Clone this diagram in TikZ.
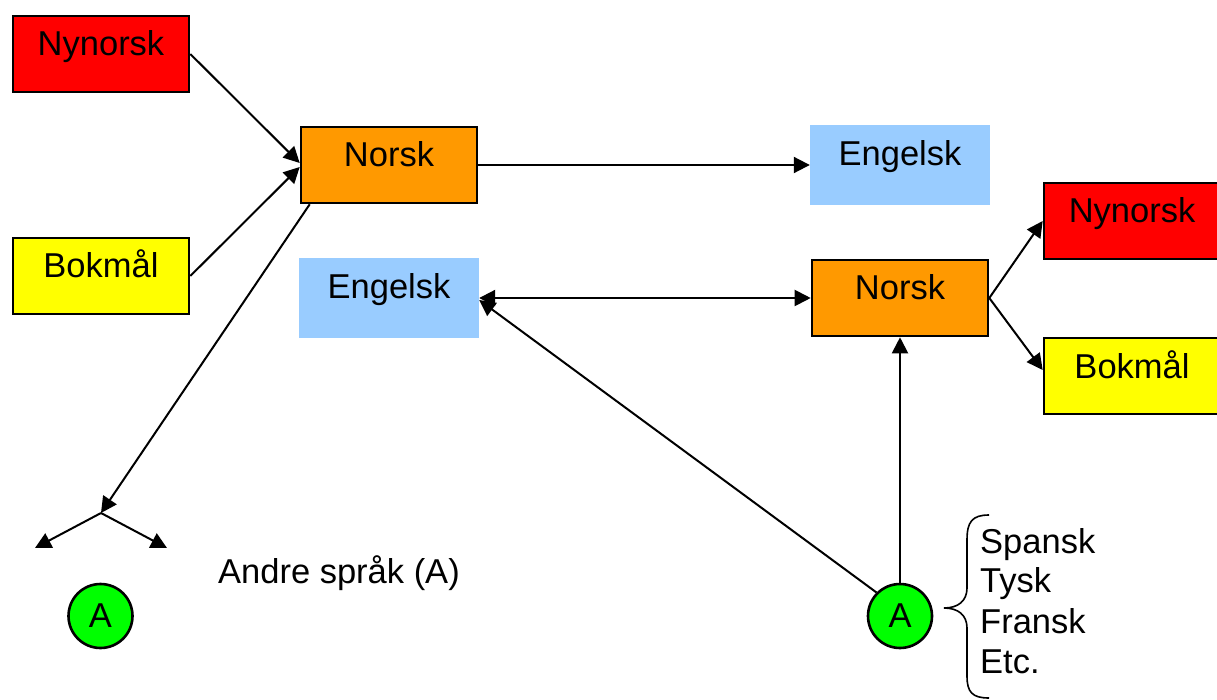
\documentclass[tikz,border=0pt]{standalone}
\usepackage{fontspec}
\setmainfont{Liberation Sans}
\usetikzlibrary{arrows.meta,calc}
\definecolor{nyred}{HTML}{FF0000}
\definecolor{norange}{HTML}{FF9900}
\definecolor{bokyellow}{HTML}{FFFF00}
\definecolor{engblue}{HTML}{99CCFF}
\definecolor{othergreen}{HTML}{00FF00}
\begin{document}
\begin{tikzpicture}[x=1pt,y=-1pt,
  lbl/.style={font=\fontsize{34.5}{40}\selectfont},
  langbox/.style={lbl, rectangle, draw=black, line width=2.6pt, inner sep=0pt,
    minimum width=176pt, text height=40pt, text depth=36pt},
  plainbox/.style={lbl, rectangle, draw=none, fill=engblue, inner sep=0pt,
    minimum width=180pt, text height=41pt, text depth=39pt},
  badge/.style={lbl, circle, draw=black, line width=2.6pt, fill=othergreen,
    minimum size=64pt, inner sep=0pt},
  link/.style={line width=2pt, -{Triangle[length=16pt,width=16pt]}},
  twoway/.style={line width=2pt, {Triangle[length=16pt,width=16pt]}-{Triangle[length=16pt,width=16pt]}},
  brace/.style={line width=1.6pt},
  listtext/.style={lbl, inner sep=0pt, anchor=base west}
  ]
\useasboundingbox (0,0) rectangle (1217,700);

% left group: two written standards feeding Norwegian
\node[langbox, fill=nyred]     (nynL)   at (101,54)  {Nynorsk};
\node[langbox, fill=bokyellow] (bokL)   at (101,276) {Bokmål};
\node[langbox, fill=norange]   (norskL) at (389,165) {Norsk};
\node[plainbox]                (engT)   at (900,165) {Engelsk};
\node[plainbox]                (engL)   at (389,298) {Engelsk};

% right group
\node[langbox, fill=norange]   (norskR) at (900,298) {Norsk};
\node[langbox, fill=nyred]     (nynR)   at (1132,221) {Nynorsk};
\node[langbox, fill=bokyellow] (bokR)   at (1132,376) {Bokmål};

% other languages
\node[badge] (aL) at (100.5,616) {A};
\node[badge] (aR) at (900,616) {A};
\node[lbl, inner sep=0pt, anchor=base west] (andre) at (218,583) {Andre språk (A)};

% fork below the left Norwegian box
\coordinate (fork)  at (101,513);
\coordinate (forkL) at (35,548);
\coordinate (forkR) at (167,548);

% connectors
\draw[link] (nynL.east) -- ($(norskL.west)+(0,-2)$);
\draw[link] (bokL.east) -- ($(norskL.west)+(0,2)$);
\draw[link] (norskL.east) -- (engT.west);
\draw[twoway] (engL.east) -- (norskR.west);
\draw[link] (aR.north) -- (norskR.south);
\draw[link] (aR.135) -- ($(engL.east)+(0,2)$);
\draw[link] (norskR.east) -- (nynR.west);
\draw[link] (norskR.east) -- ($(bokR.west)+(0,-6)$);
\draw[link] ($(norskL.south west)+(10,0)$) -- (fork);
\draw[link] (fork) -- (forkL);
\draw[link] (fork) -- (forkR);

% brace grouping the list of languages
\draw[brace] (989,515) .. controls (972,515) and (967,522) .. (967,540)
  -- (967,588) .. controls (967,601) and (958,608) .. (944,608)
  .. controls (958,608) and (967,615) .. (967,628)
  -- (967,676) .. controls (967,692) and (972,698) .. (989,698);

\node[listtext] (spansk) at (980,553) {Spansk};
\node[listtext] (tysk)   at (980,592) {Tysk};
\node[listtext] (fransk) at (980,633) {Fransk};
\node[listtext] (etc)    at (980,673) {Etc.};
\end{tikzpicture}
\end{document}
